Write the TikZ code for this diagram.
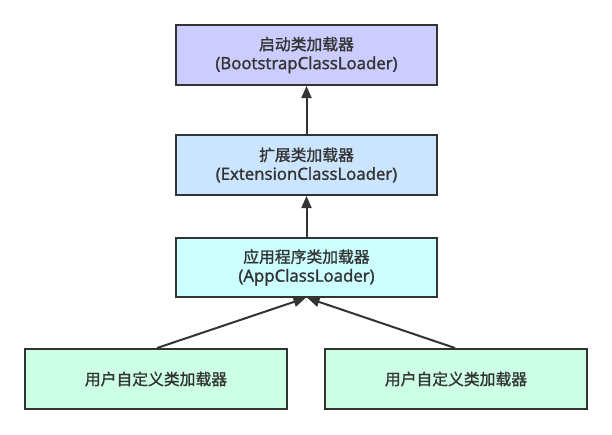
\documentclass[tikz,border=0pt]{standalone}
\usepackage{fontspec}
\setmainfont{Noto Sans CJK SC}[FakeBold=1.2]
\newfontfamily\latinf{Open Sans}[FakeBold=1.6]
\usetikzlibrary{arrows.meta}
\definecolor{edge}{HTML}{333333}
\definecolor{cboot}{HTML}{CCCCFF}
\definecolor{cext}{HTML}{CCE5FF}
\definecolor{capp}{HTML}{CCFFFF}
\definecolor{cuser}{HTML}{CCFFE6}
\newcommand{\lat}[1]{{\latinf\fontsize{16.8pt}{19pt}\selectfont #1}}
\tikzset{
  loaderbox/.style={draw=edge, line width=2pt, minimum width=261pt, minimum height=60pt,
    align=center, font=\fontsize{15.8pt}{19pt}\selectfont, text=edge, inner sep=0pt},
  userbox/.style={loaderbox, minimum width=262pt},
  conn/.style={draw=edge, line width=2pt, -{Triangle[length=12pt,width=10pt]}}
}
\begin{document}
\begin{tikzpicture}[x=1pt,y=-1pt]
\useasboundingbox (0,0) rectangle (612,434);
\node[loaderbox, fill=cboot] (boot) at (306.5,55) {启动类加载器\\\lat{(BootstrapClassLoader)}};
\node[loaderbox, fill=cext] (ext) at (306.5,165) {扩展类加载器\\\lat{(ExtensionClassLoader)}};
\node[loaderbox, fill=capp, minimum height=59pt] (app) at (306.5,267.5) {应用程序类加载器\\\lat{(AppClassLoader)}};
\node[userbox, fill=cuser] (u1) at (156,379) {用户自定义类加载器};
\node[userbox, fill=cuser] (u2) at (456,379) {用户自定义类加载器};
\draw[conn] (ext.north) -- (boot.south);
\draw[conn] (app.north) -- (ext.south);
\draw[conn] (u1.north) ++(1,0) -- ([xshift=-1pt]app.south);
\draw[conn] (u2.north) ++(-1,0) -- ([xshift=1pt]app.south);
\end{tikzpicture}
\end{document}
